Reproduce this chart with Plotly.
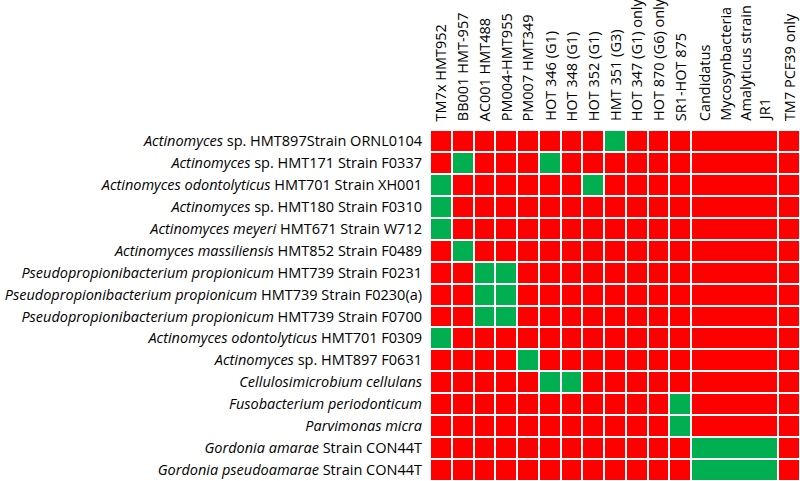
import numpy as np
import plotly.graph_objects as go

# column headers (top), left to right
COLUMNS = [
    "TM7x HMT952", "BB001 HMT-957", "AC001 HMT488", "PM004-HMT955", "PM007 HMT349",
    "HOT 346 (G1)", "HOT 348 (G1)", "HOT 352 (G1)", "HMT 351 (G3)", "HOT 347 (G1) only",
    "HOT 870 (G6) only", "SR1-HOT 875",
    "Candidatus<br>Mycosynbacteria<br>Amalyticus strain<br>JR1",
    "TM7 PCF39 only",
]

# host strains (rows), top to bottom
STRAINS = [
    "<i>Actinomyces</i> sp. HMT897Strain ORNL0104",
    "<i>Actinomyces</i> sp. HMT171 Strain F0337",
    "<i>Actinomyces odontolyticus</i> HMT701 Strain XH001",
    "<i>Actinomyces</i> sp. HMT180 Strain F0310",
    "<i>Actinomyces meyeri</i> HMT671 Strain W712",
    "<i>Actinomyces massiliensis</i> HMT852 Strain F0489",
    "<i>Pseudopropionibacterium propionicum</i> HMT739 Strain F0231",
    "<i>Pseudopropionibacterium propionicum</i> HMT739 Strain F0230(a)",
    "<i>Pseudopropionibacterium propionicum</i> HMT739 Strain F0700",
    "<i>Actinomyces odontolyticus</i> HMT701 F0309",
    "<i>Actinomyces</i> sp. HMT897 F0631",
    "<i>Cellulosimicrobium cellulans</i>",
    "<i>Fusobacterium periodonticum</i>",
    "<i>Parvimonas micra</i>",
    "<i>Gordonia amarae</i> Strain CON44T",
    "<i>Gordonia pseudoamarae</i> Strain CON44T",
]

# 1 = host match (green), 0 = no match (red)
MATCH = [
    [0, 0, 0, 0, 0, 0, 0, 0, 1, 0, 0, 0, 0, 0],
    [0, 1, 0, 0, 0, 1, 0, 0, 0, 0, 0, 0, 0, 0],
    [1, 0, 0, 0, 0, 0, 0, 1, 0, 0, 0, 0, 0, 0],
    [1, 0, 0, 0, 0, 0, 0, 0, 0, 0, 0, 0, 0, 0],
    [1, 0, 0, 0, 0, 0, 0, 0, 0, 0, 0, 0, 0, 0],
    [0, 1, 0, 0, 0, 0, 0, 0, 0, 0, 0, 0, 0, 0],
    [0, 0, 1, 1, 0, 0, 0, 0, 0, 0, 0, 0, 0, 0],
    [0, 0, 1, 1, 0, 0, 0, 0, 0, 0, 0, 0, 0, 0],
    [0, 0, 1, 1, 0, 0, 0, 0, 0, 0, 0, 0, 0, 0],
    [1, 0, 0, 0, 0, 0, 0, 0, 0, 0, 0, 0, 0, 0],
    [0, 0, 0, 0, 1, 0, 0, 0, 0, 0, 0, 0, 0, 0],
    [0, 0, 0, 0, 0, 1, 1, 0, 0, 0, 0, 0, 0, 0],
    [0, 0, 0, 0, 0, 0, 0, 0, 0, 0, 0, 1, 0, 0],
    [0, 0, 0, 0, 0, 0, 0, 0, 0, 0, 0, 1, 0, 0],
    [0, 0, 0, 0, 0, 0, 0, 0, 0, 0, 0, 0, 1, 0],
    [0, 0, 0, 0, 0, 0, 0, 0, 0, 0, 0, 0, 1, 0],
]

# the JR1 column is drawn wider than the rest
COL_SPAN = [1] * 12 + [4, 1]

FONT = "Open Sans"
FONT_SIZE = 14.5
RED = "#FF0000"
GREEN = "#00B050"

edges = np.concatenate([[0], np.cumsum(COL_SPAN)])
centers = (edges[:-1] + edges[1:]) / 2

fig = go.Figure(go.Heatmap(
    z=MATCH,
    x=edges,
    y=list(range(len(STRAINS))),
    colorscale=[[0, RED], [1, GREEN]],
    zmin=0, zmax=1,
    showscale=False,
    xgap=2, ygap=2,
    hoverinfo="skip",
))

for cx, label in zip(centers, COLUMNS):
    lines = label.split("<br>")
    n = len(lines)
    for i, line in enumerate(lines):
        fig.add_annotation(
            x=cx, xref="x", y=1, yref="paper",
            xanchor="center", yanchor="bottom",
            xshift=(i - (n - 1) / 2) * 20, yshift=7,
            text=line, textangle=-90, showarrow=False,
            font=dict(family=FONT, size=FONT_SIZE, color="black"),
        )

fig.update_xaxes(range=[edges[0], edges[-1]], showticklabels=False,
                 showgrid=False, zeroline=False)
fig.update_yaxes(
    autorange="reversed",
    tickvals=list(range(len(STRAINS))), ticktext=STRAINS,
    ticks="", ticklabelstandoff=7, showgrid=False, zeroline=False,
    tickfont=dict(family=FONT, size=FONT_SIZE, color="black"),
    automargin=False,
)
fig.update_layout(
    width=800, height=481,
    margin=dict(l=430, r=0, t=130, b=0),
    plot_bgcolor="white", paper_bgcolor="white",
)

# drop the page's default body margin so the figure fills the window
fig.write_html("out.html", config={"displayModeBar": False},
               post_script="document.body.style.margin='0';")
